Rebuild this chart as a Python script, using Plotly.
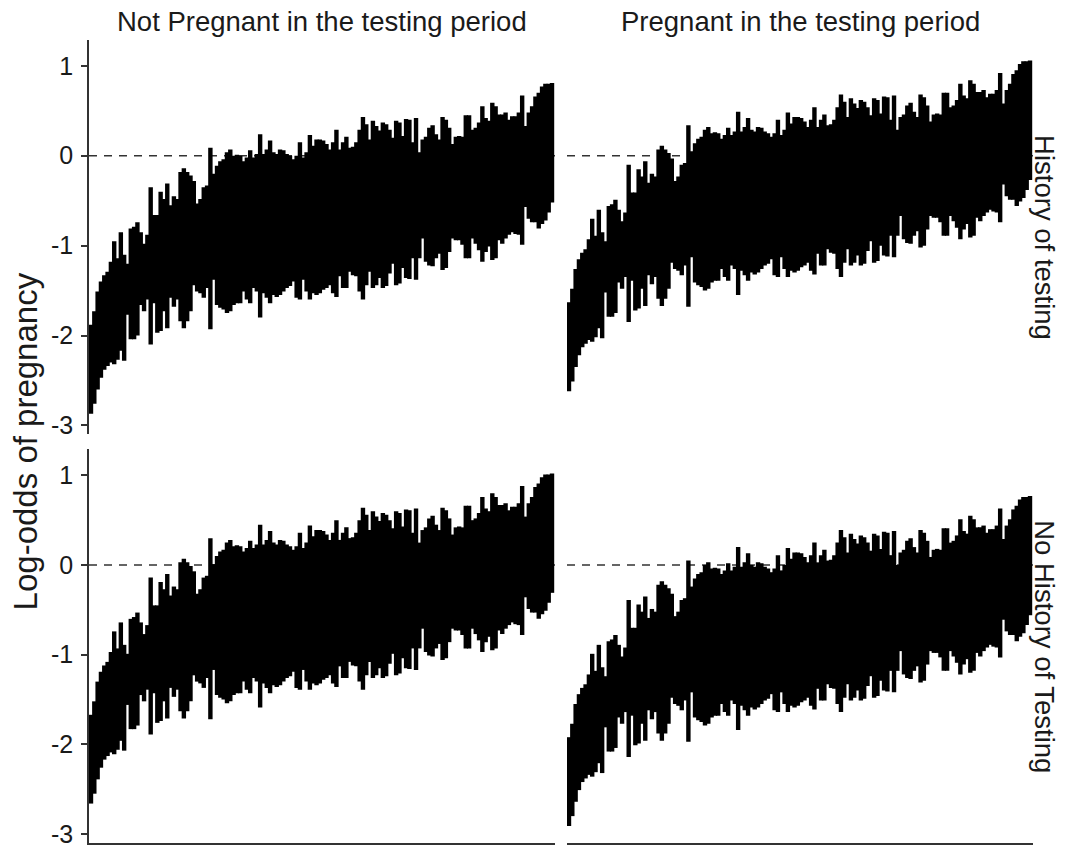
import plotly.graph_objects as go

# Subject-level 95% intervals on the log-odds scale (reference condition:
# history of testing, not pregnant in the testing period), sorted by estimate.
subject_lower = [
    -2.87, -2.76, -2.60, -2.47, -2.38, -2.34, -2.30, -2.32, -2.27, -2.17,
    -2.28, -1.77, -2.04, -2.04, -2.00, -1.66, -1.73, -1.60, -2.10, -1.64,
    -1.97, -1.95, -1.73, -1.92, -1.58, -1.68, -1.60, -1.84, -1.92, -1.84,
    -1.73, -1.44, -1.51, -1.53, -1.58, -1.47, -1.93, -1.38, -1.66, -1.69,
    -1.71, -1.75, -1.73, -1.66, -1.64, -1.64, -1.51, -1.60, -1.64, -1.47,
    -1.51, -1.80, -1.53, -1.58, -1.64, -1.55, -1.57, -1.55, -1.51, -1.47,
    -1.45, -1.40, -1.58, -1.60, -1.38, -1.51, -1.60, -1.53, -1.55, -1.53,
    -1.49, -1.47, -1.44, -1.53, -1.57, -1.34, -1.47, -1.47, -1.29, -1.33,
    -1.34, -1.51, -1.60, -1.44, -1.29, -1.47, -1.44, -1.36, -1.47, -1.45,
    -1.31, -1.20, -1.44, -1.42, -1.25, -1.36, -1.37, -1.14, -1.38, -1.14,
    -0.92, -1.18, -1.22, -1.23, -1.14, -1.09, -1.27, -1.25, -1.07, -0.92,
    -0.94, -0.94, -0.99, -1.14, -1.14, -0.92, -0.98, -1.05, -1.18, -1.07,
    -1.01, -1.16, -1.14, -0.94, -0.98, -0.92, -0.88, -0.85, -0.87, -0.88,
    -0.99, -0.57, -0.70, -0.74, -0.74, -0.81, -0.76, -0.72, -0.63, -0.52,
]
subject_upper = [
    -1.88, -1.73, -1.51, -1.40, -1.33, -1.29, -1.18, -0.95, -1.14, -0.85,
    -1.10, -1.20, -0.81, -0.79, -0.74, -0.85, -0.98, -0.88, -0.35, -0.66,
    -0.66, -0.40, -0.48, -0.31, -0.55, -0.45, -0.48, -0.18, -0.14, -0.18,
    -0.22, -0.28, -0.53, -0.48, -0.35, -0.33, 0.09, -0.20, -0.11, -0.06,
    -0.04, 0.04, 0.07, 0.00, 0.01, 0.00, -0.06, -0.02, 0.06, -0.02,
    0.02, 0.24, 0.02, 0.07, 0.17, 0.04, 0.02, 0.07, 0.06, 0.02,
    0.00, -0.04, 0.00, 0.15, -0.02, 0.04, 0.23, 0.11, 0.18, 0.18,
    0.17, 0.13, 0.07, 0.15, 0.29, 0.07, 0.15, 0.21, 0.09, 0.10,
    0.15, 0.29, 0.43, 0.35, 0.18, 0.39, 0.33, 0.28, 0.37, 0.35,
    0.29, 0.20, 0.39, 0.37, 0.22, 0.41, 0.40, 0.15, 0.42, 0.04,
    0.18, 0.21, 0.31, 0.34, 0.24, 0.18, 0.43, 0.40, 0.31, 0.13,
    0.21, 0.22, 0.21, 0.45, 0.45, 0.29, 0.31, 0.37, 0.55, 0.42,
    0.39, 0.59, 0.55, 0.46, 0.46, 0.48, 0.40, 0.44, 0.44, 0.48,
    0.67, 0.33, 0.48, 0.55, 0.66, 0.70, 0.77, 0.80, 0.80, 0.81,
]

col_labels = ["Not Pregnant in the testing period", "Pregnant in the testing period"]
row_labels = ["History of testing", "No History of Testing"]

# Condition effect added to every subject interval, per facet [row][col]
condition_shift = [
    [0.00, 0.25],
    [0.21, -0.04],
]

y_ticks = [-3, -2, -1, 0, 1]
y_tick_text = ["-3", "-2", "-1", "0", "1"]
y_range = [-3.10, 1.29]
x_range = [-0.6, len(subject_lower) - 0.1]

W, H = 1069, 852
FONT = "Liberation Sans"
INK = "#1a1a1a"
AXIS = "#333333"

# facet boxes in pixels
col_px = [(89, 555), (567, 1033)]
row_px = [(40, 437), (452, 848)]


def px_x(a, b):
    return [a / W, b / W]


def px_y(top, bottom):
    return [1 - bottom / H, 1 - top / H]


fig = go.Figure()
layout_axes = {}

for r in range(2):
    for c in range(2):
        n = r * 2 + c + 1
        xa = "x" if n == 1 else f"x{n}"
        ya = "y" if n == 1 else f"y{n}"
        shift = condition_shift[r][c]

        xs, ys = [], []
        for i, (lo, hi) in enumerate(zip(subject_lower, subject_upper)):
            xs += [i, i, None]
            ys += [lo + shift, hi + shift, None]

        fig.add_trace(go.Scatter(
            x=xs, y=ys, mode="lines", xaxis=xa, yaxis=ya,
            line=dict(color="black", width=4.4),
            hoverinfo="skip", showlegend=False,
        ))

        fig.add_shape(
            type="line", xref=f"{xa} domain", yref=ya,
            x0=0, x1=1, y0=0, y1=0, layer="below",
            line=dict(color=AXIS, width=1.6, dash="8px,7px"),
        )

        xkey = "xaxis" if n == 1 else f"xaxis{n}"
        ykey = "yaxis" if n == 1 else f"yaxis{n}"
        layout_axes[xkey] = dict(
            domain=px_x(*col_px[c]), anchor=ya, range=x_range,
            showticklabels=False, ticks="", showgrid=False, zeroline=False,
            showline=(r == 1), linecolor=AXIS, linewidth=1.5,
        )
        left = c == 0
        layout_axes[ykey] = dict(
            domain=px_y(*row_px[r]), anchor=xa, range=y_range,
            tickvals=y_ticks, ticktext=y_tick_text,
            showticklabels=left, ticks="outside" if left else "",
            ticklen=6, tickwidth=1.5, tickcolor=AXIS, ticklabelstandoff=3,
            tickfont=dict(family=FONT, size=25, color=INK),
            showgrid=False, zeroline=False,
            showline=left, linecolor=AXIS, linewidth=1.5,
        )

annotations = []
for c, label in enumerate(col_labels):
    a, b = col_px[c]
    annotations.append(dict(
        text=label, x=(a + b) / 2 / W, y=1 - 22 / H, xref="paper", yref="paper",
        xanchor="center", yanchor="middle", showarrow=False,
        font=dict(family=FONT, size=27.5, color=INK),
    ))
for r, label in enumerate(row_labels):
    t, b = row_px[r]
    annotations.append(dict(
        text=label, x=1045 / W, y=1 - (t + b) / 2 / H, xref="paper", yref="paper",
        xanchor="center", yanchor="middle", showarrow=False, textangle=90,
        font=dict(family=FONT, size=27.5, color=INK),
    ))
annotations.append(dict(
    text="Log-odds of pregnancy", x=25 / W, y=1 - 444 / H,
    xref="paper", yref="paper", xanchor="center", yanchor="middle",
    showarrow=False, textangle=-90,
    font=dict(family=FONT, size=33, color=INK),
))

fig.update_layout(
    width=W, height=H,
    margin=dict(l=0, r=0, t=0, b=0),
    paper_bgcolor="white", plot_bgcolor="white",
    annotations=annotations,
    **layout_axes,
)

fig.write_html("out.html")
